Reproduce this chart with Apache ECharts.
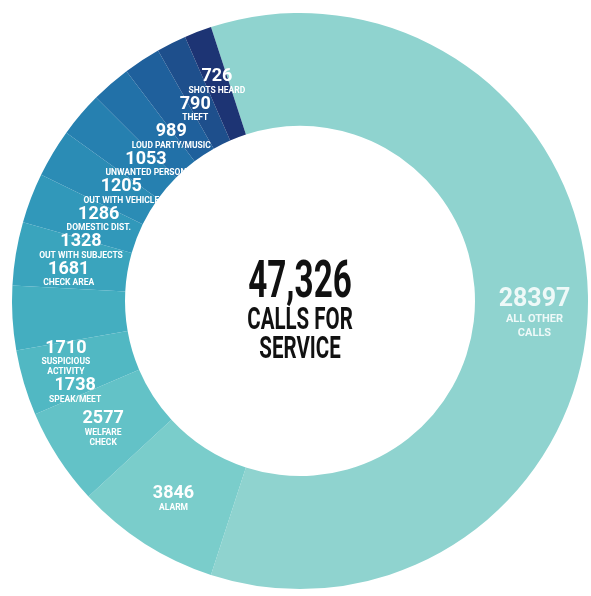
<!DOCTYPE html>
<html>
<head>
<meta charset="utf-8">
<script src="https://cdn.jsdelivr.net/npm/echarts@6/dist/echarts.min.js"></script>
<style>
  html, body { margin: 0; padding: 0; background: #ffffff; }
  #chart { width: 591px; height: 596px; }
</style>
</head>
<body>
<div id="chart"></div>
<script>
// Calls for service, by call type
const categories = [
  'ALL OTHER\nCALLS', 'ALARM', 'WELFARE\nCHECK', 'SPEAK/MEET', 'SUSPICIOUS\nACTIVITY',
  'CHECK AREA', 'OUT WITH SUBJECTS', 'DOMESTIC DIST.', 'OUT WITH VEHICLE',
  'UNWANTED PERSON', 'LOUD PARTY/MUSIC', 'THEFT', 'SHOTS HEARD'
];
const calls = [28397, 3846, 2577, 1738, 1710, 1681, 1328, 1286, 1205, 1053, 989, 790, 726];
const sliceColors = [
  '#8fd3cf', '#7acdcb', '#63c2c7', '#51b8c3', '#44aec0', '#3aa4bd', '#3198ba',
  '#2b8cb5', '#2680b0', '#2271a8', '#1f609c', '#1e4f8c', '#1d3474'
];
const totalLabel = '47,326';
const centerLines = ['CALLS FOR', 'SERVICE'];

const FONT = "Roboto, 'Liberation Sans', sans-serif";

const chart = echarts.init(document.getElementById('chart'), null, { renderer: 'canvas' });

const pieData = categories.map((name, i) => ({
  name: name,
  value: calls[i],
  itemStyle: { color: sliceColors[i] },
  label: i === 0 ? {
    rich: {
      v: { fontSize: 25, fontWeight: 'bold', color: 'rgba(255,255,255,0.85)', fontFamily: FONT, lineHeight: 25 },
      n: { fontSize: 11, fontWeight: 'bold', color: 'rgba(255,255,255,0.85)', fontFamily: FONT, lineHeight: 14 }
    }
  } : undefined
}));

// Narrow bold headline text in the hole of the ring
function centerText(text, size, y) {
  return {
    type: 'text',
    x: 300,
    y: y,
    scaleX: 0.64,
    silent: true,
    style: {
      text: text,
      font: 'bold ' + size + 'px ' + FONT,
      fill: '#111111',
      align: 'center',
      verticalAlign: 'middle'
    }
  };
}

chart.setOption({
  animation: false,
  backgroundColor: '#ffffff',
  graphic: [
    centerText(totalLabel, 52, 284),
    centerText(centerLines[0], 32, 321),
    centerText(centerLines[1], 32, 350)
  ],
  series: [{
    type: 'pie',
    center: [300, 301],
    radius: [175, 288],
    startAngle: 108,
    clockwise: true,
    silent: true,
    itemStyle: { borderWidth: 0 },
    label: {
      show: true,
      position: 'inside',
      formatter: p => '{v|' + p.value + '}\n{n|' + p.name.split('\n').join('}\n{n|') + '}',
      rich: {
        v: { fontSize: 18, fontWeight: 'bold', color: '#ffffff', fontFamily: FONT, lineHeight: 18 },
        n: { fontSize: 8.5, fontWeight: 'bold', color: '#ffffff', fontFamily: FONT, lineHeight: 10 }
      }
    },
    labelLine: { show: false },
    labelLayout: { moveOverlap: 'shiftY' },
    data: pieData
  }]
});
</script>
</body>
</html>
